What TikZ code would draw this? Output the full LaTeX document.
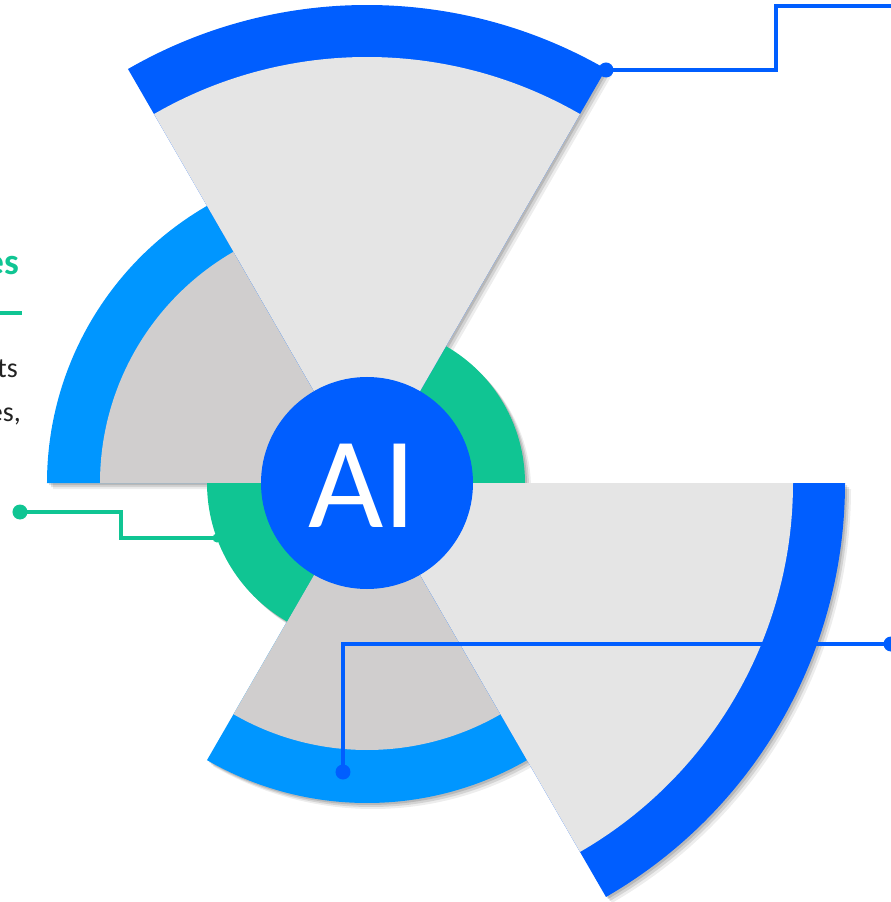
\documentclass[tikz,border=0pt]{standalone}
\usepackage{fontspec}
\setmainfont{Carlito}
\definecolor{deepblue}{HTML}{005EFF}
\definecolor{skyblue}{HTML}{0096FF}
\definecolor{mint}{HTML}{10C593}
\definecolor{lightgray}{HTML}{E5E5E5}
\definecolor{midgray}{HTML}{D0CECE}
\definecolor{bodytext}{HTML}{222222}
\newcommand\mysector[3]{(0pt,0pt) -- (#1:#3) arc[start angle=#1,end angle=#2,radius=#3] -- cycle}
\tikzset{
  conn/.style={line width=3.5pt},
  dotnode/.style={circle,inner sep=0pt,minimum size=15pt,fill=#1},
  smalldot/.style={circle,inner sep=0pt,minimum size=9pt,fill=#1},
}
\begin{document}
\begin{tikzpicture}[x=1pt,y=1pt]
\useasboundingbox (-367,-419) rectangle (524,483);
% shadows
\foreach \dx/\op in {2/0.13,4/0.11,6/0.07}{
  \begin{scope}[shift={(\dx pt,-\dx pt)}]
    \fill[black,opacity=\op] \mysector{60}{120}{478pt};
    \fill[black,opacity=\op] \mysector{-60}{0}{478pt};
    \fill[black,opacity=\op] \mysector{120}{180}{320pt};
    \fill[black,opacity=\op] \mysector{-120}{-60}{320pt};
    \fill[black,opacity=\op] \mysector{0}{60}{158pt};
    \fill[black,opacity=\op] \mysector{180}{240}{160pt};
  \end{scope}
}
% left sector
\fill[skyblue] \mysector{120}{180}{320pt};
\fill[midgray] \mysector{120}{180}{267pt};
% bottom sector
\fill[skyblue] \mysector{-120}{-60}{320pt};
\fill[midgray] \mysector{-120}{-60}{267pt};
% green sectors
\fill[mint] \mysector{0}{60}{158pt};
\fill[mint] \mysector{180}{240}{160pt};
% top sector
\fill[deepblue] \mysector{60}{120}{478pt};
\fill[lightgray] \mysector{60}{120}{426pt};
% bottom-right sector
\fill[deepblue] \mysector{-60}{0}{478pt};
\fill[lightgray] \mysector{-60}{0}{426pt};
% center
\node[circle,fill=deepblue,minimum size=212pt,inner sep=0pt] (hub) at (0,0) {};
\node[text=white,inner sep=0pt,font=\fontsize{130}{130}\selectfont] (ailabel) at (-4.5,-3) {AI};
% left text
\node[anchor=base east,inner sep=0pt,text=mint,font=\fontsize{37}{44}\selectfont\bfseries] (title) at (-348,208) {es};
\coordinate (ulA) at (-380,170);
\coordinate (ulB) at (-345,170);
\draw[mint,line width=4pt] (ulA) -- (ulB);
\node[anchor=base east,inner sep=0pt,text=bodytext,font=\fontsize{28}{32}\selectfont] (lineA) at (-349,105) {ts};
\node[anchor=base east,inner sep=0pt,text=bodytext,font=\fontsize{28}{32}\selectfont] (lineB) at (-346,61) {es,};
% top connector
\node[dotnode=deepblue] (tdot) at (239,413) {};
\coordinate (tc1) at (409,413);
\coordinate (tc2) at (409,477);
\coordinate (tend) at (530,477);
\draw[deepblue,conn] (tdot.center) -- (tc1) -- (tc2) -- (tend);
% left connector
\node[dotnode=mint] (ldot) at (-347,-29) {};
\coordinate (lc1) at (-246,-29);
\coordinate (lc2) at (-246,-55);
\node[smalldot=mint] (lend) at (-150,-55) {};
\draw[mint,conn] (ldot.center) -- (lc1) -- (lc2) -- (lend.center);
% bottom connector
\node[dotnode=deepblue] (bdot) at (-24,-289) {};
\coordinate (bc1) at (-24,-161);
\node[dotnode=deepblue] (bend) at (524,-161) {};
\draw[deepblue,conn] (bdot.center) -- (bc1) -- (bend.center);
\end{tikzpicture}
\end{document}
